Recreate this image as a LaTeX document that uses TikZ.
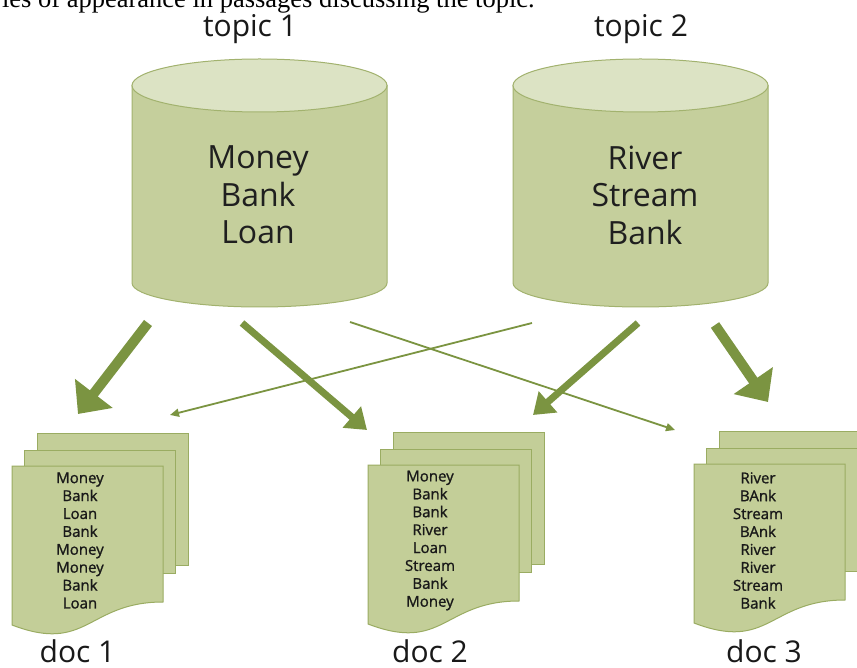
\documentclass[tikz,border=0pt]{standalone}
\usepackage{fontspec}
\setmainfont{Open Sans}
\newfontfamily\serifx{Liberation Serif}
\newfontfamily\semib[FakeBold=1.2]{Open Sans}
\usetikzlibrary{arrows.meta}
\definecolor{cylbody}{HTML}{C5CF9C}
\definecolor{cyltop}{HTML}{DCE3C4}
\definecolor{cylline}{HTML}{A2B26E}
\definecolor{pagefill}{HTML}{C3CE98}
\definecolor{pageline}{HTML}{9AAC62}
\definecolor{arrowc}{HTML}{7B9441}
\tikzset{
  cylpic/.pic={
    \path[fill=cylbody, draw=cylline, line width=1pt]
      (-127.5,0) -- (-127.5,197.5)
      arc[start angle=180, end angle=0, x radius=127.5, y radius=24]
      -- (127.5,0) -- cycle;
    \path[fill=cyltop, draw=cylline, line width=1pt]
      (0,0) ellipse[x radius=127.5, y radius=26.5];
  },
  docpic/.pic={
    \path[fill=pagefill, draw=pageline, line width=1pt] (25,-33) rectangle (176,99);
    \path[fill=pagefill, draw=pageline, line width=1pt] (12,-16) rectangle (163,107);
    \path[fill=pagefill, draw=pageline, line width=1pt]
      (0,0) -- (151,0) -- (151,136)
      .. controls (75.5,136) and (75.5,188) .. (0,159) -- cycle;
  },
  cyltext/.style={align=center, inner sep=0pt, font=\fontsize{32}{37.5}\selectfont, text=black!88},
  doctext/.style={align=center, inner sep=0pt, font=\semib\fontsize{15}{17.9}\selectfont, text=black!90},
  lbl/.style={anchor=base, inner sep=0pt, font=\fontsize{30}{34}\selectfont, text=black!90},
  bigarrow/.style={draw=arrowc, line width=10pt, -{Triangle[width=46pt,length=26pt]}},
  medarrow/.style={draw=arrowc, line width=7pt, -{Triangle[width=27pt,length=20pt]}},
  thinarrow/.style={draw=arrowc, line width=1.8pt, -{Triangle[width=8pt,length=9pt]}},
}
\begin{document}
\begin{tikzpicture}[x=1pt, y=-1pt]
\clip (0,0) rectangle (857,668);
\fill[white] (0,0) rectangle (857,668);

% caption fragment cut at the top
\node[anchor=base east, inner sep=0pt, font=\serifx\fontsize{26.5}{30}\selectfont] (cap) at (535,8)
  {ies of appearance in passages discussing the topic.};

% topic labels
\node[lbl] (t1) at (250,37) {topic 1};
\node[lbl] (t2) at (641,37) {topic 2};

% cylinders
\pic at (259.5,85.5) {cylpic};
\pic at (640.5,85.5) {cylpic};
\node[cyltext] (c1) at (258,195) {Money\\Bank\\Loan};
\node[cyltext] (c2) at (645,195) {River\\Stream\\Bank};

% documents
\pic at (12,466) {docpic};
\pic at (368,465) {docpic};
\pic at (694,464) {docpic};
\node[doctext] (d1) at (80,540.5) {Money\\Bank\\Loan\\Bank\\Money\\Money\\Bank\\Loan};
\node[doctext] (d2) at (430,540.5) {Money\\Bank\\Bank\\River\\Loan\\Stream\\Bank\\Money};
\node[doctext] (d3) at (758,540.5) {River\\BAnk\\Stream\\BAnk\\River\\River\\Stream\\Bank};
\node[lbl] (l1) at (77.5,662) {doc 1};
\node[lbl] (l2) at (430,662) {doc 2};
\node[lbl] (l3) at (764,662) {doc 3};

% arrow end points
\coordinate (a1s) at (148,323); \coordinate (a1e) at (78,414);
\coordinate (a2s) at (242,323); \coordinate (a2e) at (367,430);
\coordinate (a3s) at (350,322); \coordinate (a3e) at (675,430);
\coordinate (a4s) at (532,323); \coordinate (a4e) at (170,415);
\coordinate (a5s) at (638,323); \coordinate (a5e) at (533,415);
\coordinate (a6s) at (715,325); \coordinate (a6e) at (768,402);

\draw[thinarrow] (a3s) -- (a3e);
\draw[thinarrow] (a4s) -- (a4e);
\draw[bigarrow] (a1s) -- (a1e);
\draw[medarrow] (a2s) -- (a2e);
\draw[medarrow] (a5s) -- (a5e);
\draw[bigarrow] (a6s) -- (a6e);
\end{tikzpicture}
\end{document}
